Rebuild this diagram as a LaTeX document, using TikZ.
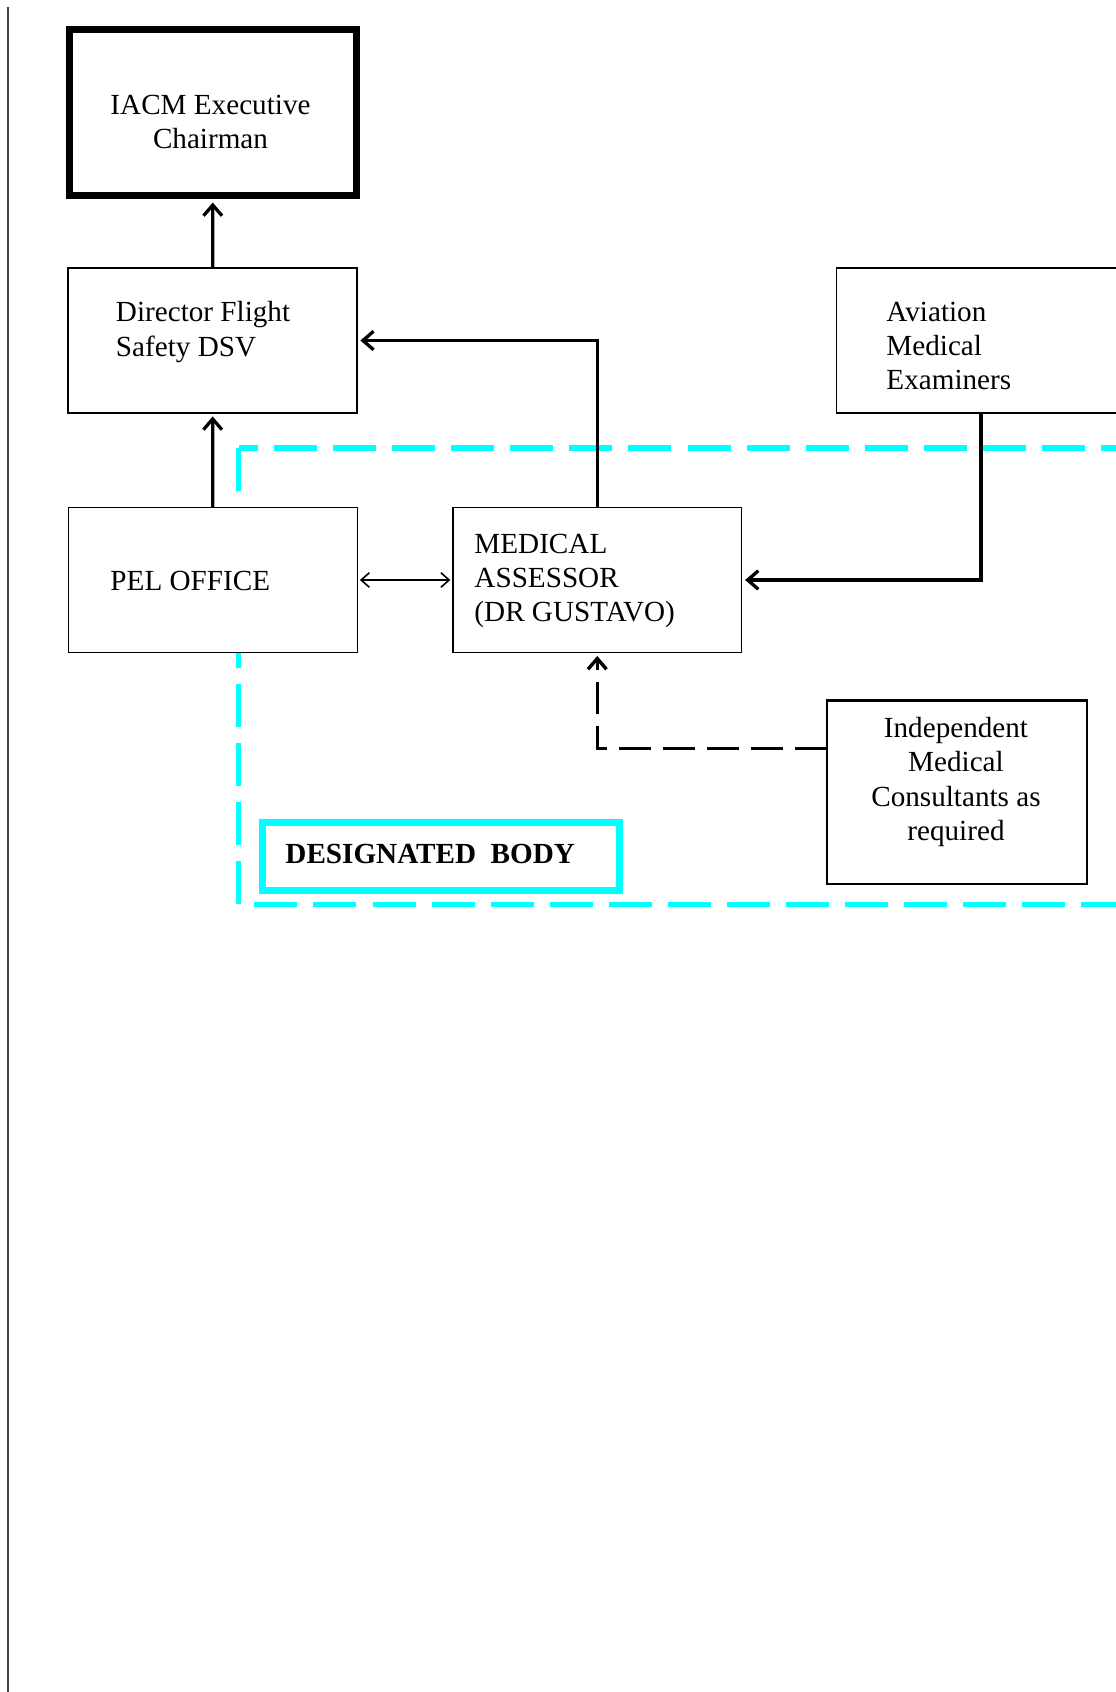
\documentclass[tikz,border=0pt]{standalone}
\usepackage{fontspec}
\setmainfont{Liberation Serif}
\usetikzlibrary{arrows.meta,calc}
\definecolor{db_cyan}{HTML}{00FFFF}
\definecolor{rule_grey}{HTML}{404040}

\begin{document}
\begin{tikzpicture}[x=0.4115pt, y=-0.4115pt,
    box/.style={draw, fill=white, line width=0.6pt, minimum width=118.9pt, minimum height=59.7pt, inner sep=0pt, outer sep=0pt},
    txt/.style={font=\fontsize{12}{14.1}\selectfont, inner sep=0pt},
    link/.style={line width=1.35pt, shorten >=1.4pt, -{Straight Barb[length=4.4pt,width=7.6pt]}}]
    \useasboundingbox (0,0) rectangle (1116,1692);
    \draw[rule_grey, line width=0.7pt] (8,7) -- (8,1692);
    % designated body area
    \draw[db_cyan, line width=2.3pt, dash pattern=on 17.7pt off 6.6pt] (238.5,448) rectangle (1150,904.5);

    \node[box, line width=2.9pt, outer sep=1.5pt, minimum width=118.1pt, minimum height=68.3pt] (iacm) at (213,112.5) {};
    \node[box] (dfs) at (212.5,340.5) {};
    \node[box] (ame) at (981,340.5) {};
    \node[box] (pel) at (213,580) {};
    \node[box] (med) at (597.25,580) {};
    \node[box, line width=0.9pt, minimum width=107pt, minimum height=75.5pt] (imc) at (956.8,792.3) {};
    \node[box, draw=db_cyan, line width=2.9pt, minimum width=146.8pt, minimum height=27.8pt] (desig) at (441,856.3) {};

    \node[txt, align=center] (iacm_t) at (210.5,122) {IACM Executive\\Chairman};
    \node[txt, align=left, anchor=west] (dfs_t) at (115.5,332) {Director Flight\\Safety DSV};
    \node[txt, align=left, anchor=west] (ame_t) at (886,346) {Aviation\\Medical\\Examiners};
    \node[txt, anchor=west] (pel_t) at (110,581) {PEL OFFICE};
    \node[txt, align=left, anchor=west] (med_t) at (474,581) {MEDICAL\\ASSESSOR\\(DR GUSTAVO)};
    \node[txt, align=center] (imc_t) at (956,782) {Independent\\Medical\\Consultants as\\required};
    \node[txt, font=\fontsize{12}{14.1}\selectfont\bfseries, anchor=west] (desig_t) at (285,854) {DESIGNATED\ \ BODY};

    \draw[link] (dfs) -- (iacm);
    \draw[link] (pel) -- (dfs);
    \draw[link] (med.north) |- (dfs.east);
    \draw[link] (ame.south) |- (med.east);
    \draw[line width=0.65pt, shorten <=1pt, shorten >=1pt, {Straight Barb[length=3.4pt,width=6pt]}-{Straight Barb[length=3.4pt,width=6pt]}] (pel) -- (med);
    \coordinate (imc_in) at ($(imc.north west)!0.26!(imc.south west)$);
    \draw[link, line width=1.4pt, dash pattern=on 13.2pt off 4.9pt] (imc_in) -| (med.south);
\end{tikzpicture}
\end{document}
